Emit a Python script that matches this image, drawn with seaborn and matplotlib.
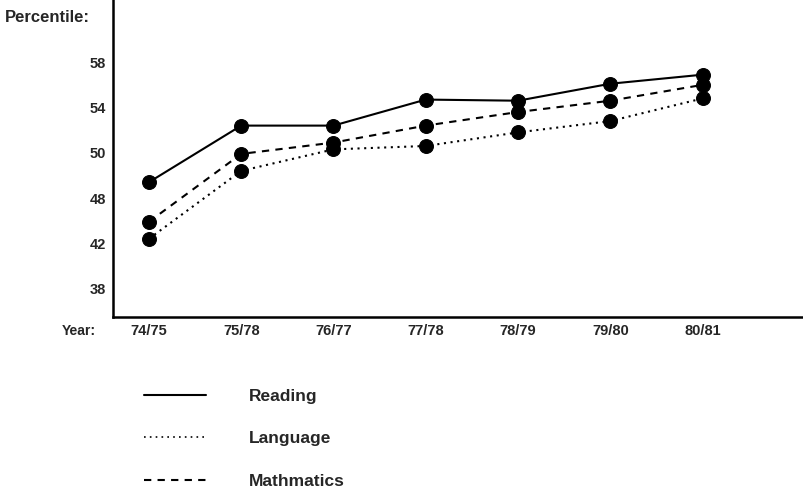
import pandas as pd
import seaborn as sns
from matplotlib import pyplot as plt
from matplotlib.lines import Line2D

years = ['74/75', '75/78', '76/77', '77/78', '78/79', '79/80', '80/81']
reading = [47.4, 52.4, 52.4, 54.7, 54.6, 56.1, 56.9]
language = [42.4, 48.4, 50.3, 50.6, 51.8, 52.8, 54.8]
mathmatics = [43.9, 49.9, 50.9, 52.4, 53.6, 54.6, 56.0]
subjects = ['Reading', 'Language', 'Mathmatics']
y_ticks = [38, 42, 46, 50, 54, 58]
y_tick_labels = ['38', '42', '48', '50', '54', '58']

df = pd.DataFrame({
    'Year': years * 3,
    'Percentile': reading + language + mathmatics,
    'Subject': [s for s in subjects for _ in years],
})

sns.set_style('white')
plt.rcParams['font.family'] = ['Liberation Sans', 'DejaVu Sans']

fig = plt.figure(figsize=(8.04, 4.92), dpi=100)
ax = fig.add_axes([0.1405, 0.356, 0.8595, 0.644])

estilos = {'Reading': '', 'Language': (1, 2.2), 'Mathmatics': (3.5, 3)}
sns.lineplot(data=df, x='Year', y='Percentile', hue='Subject', style='Subject',
             palette=['black'] * 3, dashes=estilos, markers={s: 'o' for s in subjects},
             markersize=10, markeredgecolor='black', linewidth=1.5, sort=False, ax=ax)
ax.get_legend().remove()

ax.set_xlim(-0.39, 7.1)
ax.set_ylim(35.5, 63.5)
ax.set_yticks(y_ticks)
ax.set_yticklabels(y_tick_labels)
ax.tick_params(axis='both', length=0, labelsize=10.5, pad=5)
for lab in ax.get_xticklabels() + ax.get_yticklabels():
    lab.set_fontweight('bold')
ax.set_xlabel('')
ax.set_ylabel('')

sns.despine(ax=ax)
for lado in ['left', 'bottom']:
    ax.spines[lado].set_color('black')
    ax.spines[lado].set_linewidth(1.8)

fig.text(5 / 804, 1 - 17 / 492, 'Percentile:', fontsize=12, fontweight='bold', va='center')
fig.text(62 / 804, 1 - 331 / 492, 'Year:', fontsize=10, fontweight='bold', va='center')

# leyenda abajo, a mano
handles = [Line2D([], [], color='black', linewidth=1.5, linestyle='-'),
           Line2D([], [], color='black', linewidth=1.2, linestyle=(0, (1, 2.5))),
           Line2D([], [], color='black', linewidth=1.5, linestyle=(0, (3.5, 3)))]
leg = fig.legend(handles, subjects, loc='upper left', bbox_to_anchor=(128 / 804, 1 - 373 / 492),
                 frameon=False, handlelength=3.6, handletextpad=2.45, labelspacing=1.58,
                 prop={'weight': 'bold', 'size': 12.5})

plt.savefig('out.png', dpi=100)
